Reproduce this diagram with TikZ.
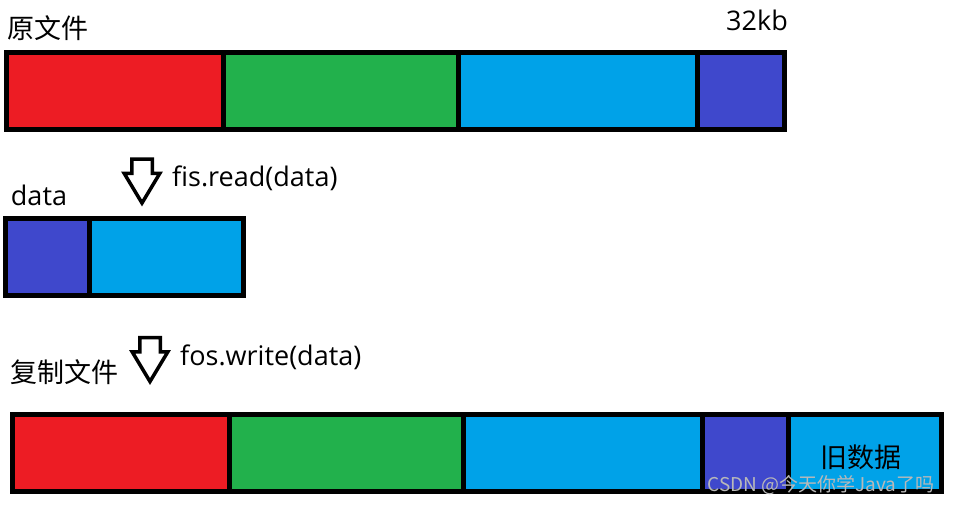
\documentclass[tikz,border=0pt]{standalone}
\usepackage{fontspec}
\setmainfont{Open Sans}
\newfontfamily\cjk{Noto Sans CJK SC}
\usepackage{tikz}
\usetikzlibrary{positioning}
\usetikzlibrary{shapes.arrows}
\usepackage{xcolor}
\definecolor{paintred}{HTML}{ED1C24}
\definecolor{paintgreen}{HTML}{22B14C}
\definecolor{paintblue}{HTML}{00A2E8}
\definecolor{paintindigo}{HTML}{3F48CC}
\definecolor{markgray}{HTML}{B9B9B9}

\begin{document}
\begin{tikzpicture}[x=1pt, y=-1pt]
    \tikzset{Block/.style={rectangle, draw, line width=5pt, inner sep=0pt, outer sep=0pt, minimum height=77pt}};
    \tikzset{Label/.style={font=\fontsize{27}{32}\selectfont, inner sep=0pt}};
    \tikzset{Down/.style={single arrow, draw, line width=3.5pt, rotate=-90, inner sep=8.5pt, minimum height=44pt, single arrow head extend=7.5pt, single arrow tip angle=62, single arrow head indent=0pt}};

    \useasboundingbox (0,0) rectangle (953,505);

    % source file
    \node[Block, fill=paintred, minimum width=217pt, anchor=north west](s1) at (6.5,52.5){};
    \node[Block, fill=paintgreen, minimum width=235pt, right=0pt of s1](s2){};
    \node[Block, fill=paintblue, minimum width=239pt, right=0pt of s2](s3){};
    \node[Block, fill=paintindigo, minimum width=87pt, right=0pt of s3](s4){};
    \node[Label, anchor=west](src) at (7,28){\cjk 原文件};
    \node[Label](size) at (757,20){32kb};

    % buffer
    \node[Down](r) at (142,172.5){};
    \node[Label, anchor=west](read) at (172,178){fis.read(data)};
    \node[Block, fill=paintindigo, minimum width=84pt, anchor=north west](b1) at (5.5,218.5){};
    \node[Block, fill=paintblue, minimum width=154pt, right=0pt of b1](b2){};
    \node[Label](buf) at (39,195){data};

    % copy
    \node[Down](w) at (150,351){};
    \node[Label, anchor=west](write) at (180,357){fos.write(data)};
    \node[Label, anchor=west](dst) at (10,372){\cjk 复制文件};
    \node[Block, fill=paintred, minimum width=216.5pt, anchor=north west](c1) at (12.5,414.5){};
    \node[Block, fill=paintgreen, minimum width=234.5pt, right=0pt of c1](c2){};
    \node[Block, fill=paintblue, minimum width=238.5pt, right=0pt of c2](c3){};
    \node[Block, fill=paintindigo, minimum width=86pt, right=0pt of c3](c4){};
    \node[Block, fill=paintblue, minimum width=153.5pt, right=0pt of c4](c5){};
    \node[Label](old) at (861,457){\cjk 旧数据};

    \node[font=\cjk\fontsize{19}{23}\selectfont, text=markgray, inner sep=0pt](mark) at (821,485){CSDN @今天你学Java了吗};
\end{tikzpicture}
\end{document}
